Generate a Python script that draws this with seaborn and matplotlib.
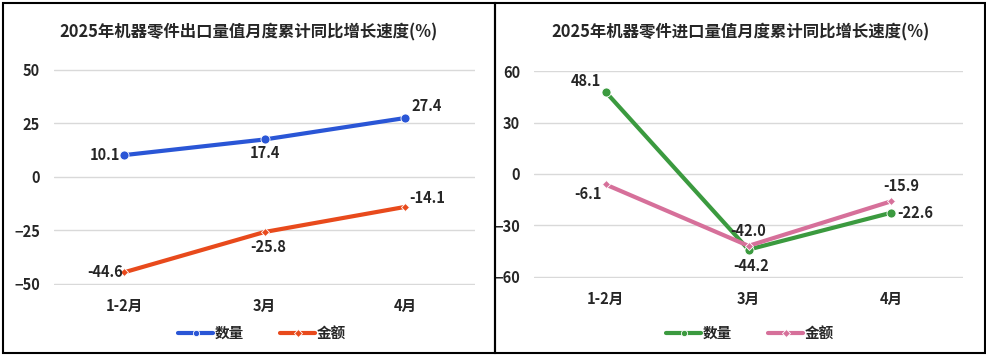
import pandas as pd
import matplotlib
matplotlib.use("Agg")
import matplotlib.pyplot as plt
import seaborn as sns
from matplotlib.patches import Rectangle

# data
months = ["1-2月", "3月", "4月"]
export_qty = [10.1, 17.4, 27.4]
export_val = [-44.6, -25.8, -14.1]
import_qty = [48.1, -44.2, -22.6]
import_val = [-6.1, -42.0, -15.9]
series_names = ["数量", "金额"]

sns.set_theme(style="white")
plt.rcParams['font.family'] = ['Noto Sans CJK SC', 'DejaVu Sans']
plt.rcParams['font.weight'] = 'bold'


def long_df(qty, val):
    return pd.DataFrame({
        "月份": months * 2,
        "系列": [series_names[0]] * 3 + [series_names[1]] * 3,
        "值": qty + val,
    })


fig = plt.figure(figsize=(9.87, 3.56), dpi=100)

# panel borders
for x0, w in [(3, 492), (495, 490)]:
    fig.patches.append(Rectangle((x0 / 987, 3 / 356), w / 987, 350 / 356,
                                 transform=fig.transFigure, fill=False,
                                 edgecolor="black", linewidth=1.5))


def draw_panel(rect, df, colors, ylim, yticks, title, title_x, labels, leg_x):
    ax = fig.add_axes(rect)
    idx = {m: i for i, m in enumerate(months)}
    df = df.assign(x=df["月份"].map(idx))
    sns.lineplot(data=df, x="x", y="值", hue="系列", style="系列",
                 palette=dict(zip(series_names, colors)),
                 markers={"数量": "o", "金额": "D"}, dashes=False,
                 linewidth=3, markersize=6.5, markeredgecolor="white",
                 markeredgewidth=0.6, ax=ax, legend=True)
    # diamonds are small in the reference
    ax.lines[1].set_markersize(4)
    ax.set_xlim(-0.5, 2.5)
    ax.set_ylim(*ylim)
    ax.set_yticks(yticks)
    ax.set_xticks(range(3))
    ax.set_xticklabels(months)
    ax.grid(axis="y", color="#d9d9d9", linewidth=1)
    ax.set_axisbelow(True)
    for s in ax.spines.values():
        s.set_visible(False)
    ax.tick_params(axis="both", length=0, labelsize=10.5)
    ax.tick_params(axis="x", pad=10)
    ax.tick_params(axis="y", pad=10)
    ax.set_xlabel("")
    ax.set_ylabel("")
    for (xi, yv, dx, dy, ha, va) in labels:
        ax.annotate(f"{yv:.1f}", (xi, yv), xytext=(dx, dy), textcoords="offset points",
                    ha=ha, va=va, fontsize=10.5, fontweight="bold")
    handles, lbls = ax.get_legend_handles_labels()
    for h in handles:
        h.set_markersize(4.5)
    ax.legend(handles, lbls, loc="center", bbox_to_anchor=(leg_x, 23 / 356),
              bbox_transform=fig.transFigure, ncol=2, frameon=False,
              fontsize=10.5, handlelength=2.4, handletextpad=0.1, columnspacing=2.5)
    fig.text(title_x, 1 - 32 / 356, title, ha="center", va="center",
             fontsize=11.8, fontweight="bold")
    return ax


draw_panel([54 / 987, 1 - 284.5 / 356, 421 / 987, 215.5 / 356],
           long_df(export_qty, export_val), ["#2a56d6", "#e84a1c"],
           (-50.3, 50.3), [-50, -25, 0, 25, 50],
           "2025年机器零件出口量值月度累计同比增长速度(%)", 249 / 987,
           [(0, 10.1, -3, 0, "right", "center"),
            (1, 17.4, 0, -4, "center", "top"),
            (2, 27.4, 5, 3, "left", "bottom"),
            (0, -44.6, -1, 0, "right", "center"),
            (1, -25.8, 3, -5, "center", "top"),
            (2, -14.1, 3, 1, "left", "bottom")],
           262 / 987)

draw_panel([534 / 987, 1 - 277.5 / 356, 429 / 987, 207 / 356],
           long_df(import_qty, import_val), ["#3b9a3f", "#d6709a"],
           (-60.5, 60.5), [-60, -30, 0, 30, 60],
           "2025年机器零件进口量值月度累计同比增长速度(%)", 741 / 987,
           [(0, 48.1, -3, 2, "right", "bottom"),
            (0, -6.1, -3, -1, "right", "top"),
            (1, -42.0, 0, 5, "center", "bottom"),
            (1, -44.2, 2, -6, "center", "top"),
            (2, -15.9, 7, 5, "center", "bottom"),
            (2, -22.6, 4, 0, "left", "center")],
           750 / 987)

fig.savefig("out.png", dpi=100)
